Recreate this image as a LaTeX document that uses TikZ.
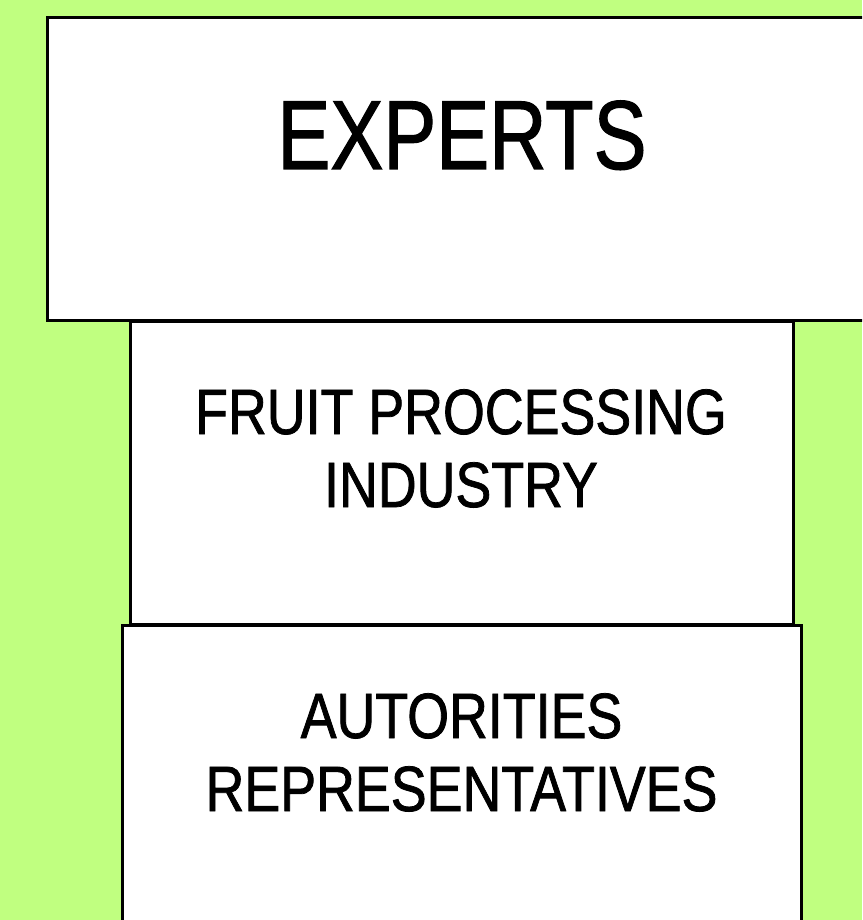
\documentclass[tikz,border=0pt]{standalone}
\usepackage{fontspec}
\newfontfamily\titlefont[FakeStretch=0.81,FakeBold=1.2]{Liberation Sans}
\newfontfamily\labelfont[FakeStretch=0.84,FakeBold=1.2]{Liberation Sans}
\definecolor{leaf}{RGB}{192,255,128}
\begin{document}
\begin{tikzpicture}[x=1pt,y=-1pt,
  panel/.style={draw=black,line width=3pt,fill=white,rectangle,inner sep=0pt,outer sep=0pt},
  biglabel/.style={font=\titlefont\fontsize{98}{110}\selectfont,inner sep=0pt,anchor=base},
  label/.style={font=\labelfont\fontsize{64}{73}\selectfont,inner sep=0pt,anchor=base,align=center}]
  % page and background
  \useasboundingbox (0,0) rectangle (862,920);
  \fill[leaf] (0,0) rectangle (862,920);
  \begin{scope}
    \clip (0,0) rectangle (862,920);
    % stacked panels
    \node[panel,minimum width=833pt,minimum height=302pt] (experts) at (463.5,169) {};
    \node[panel,minimum width=663pt,minimum height=303pt] (industry) at (461.5,472.5) {};
    \node[panel,minimum width=679pt,minimum height=315pt] (authorities) at (461.5,782.5) {};
  \end{scope}
  % labels (base anchor sits on the last line)
  \node[biglabel] (expertsText) at (462,169) {EXPERTS};
  \node[label] (industryText) at (461,507) {FRUIT PROCESSING\\INDUSTRY};
  \node[label] (authoritiesText) at (461.5,811) {AUTORITIES\\REPRESENTATIVES};
\end{tikzpicture}
\end{document}
